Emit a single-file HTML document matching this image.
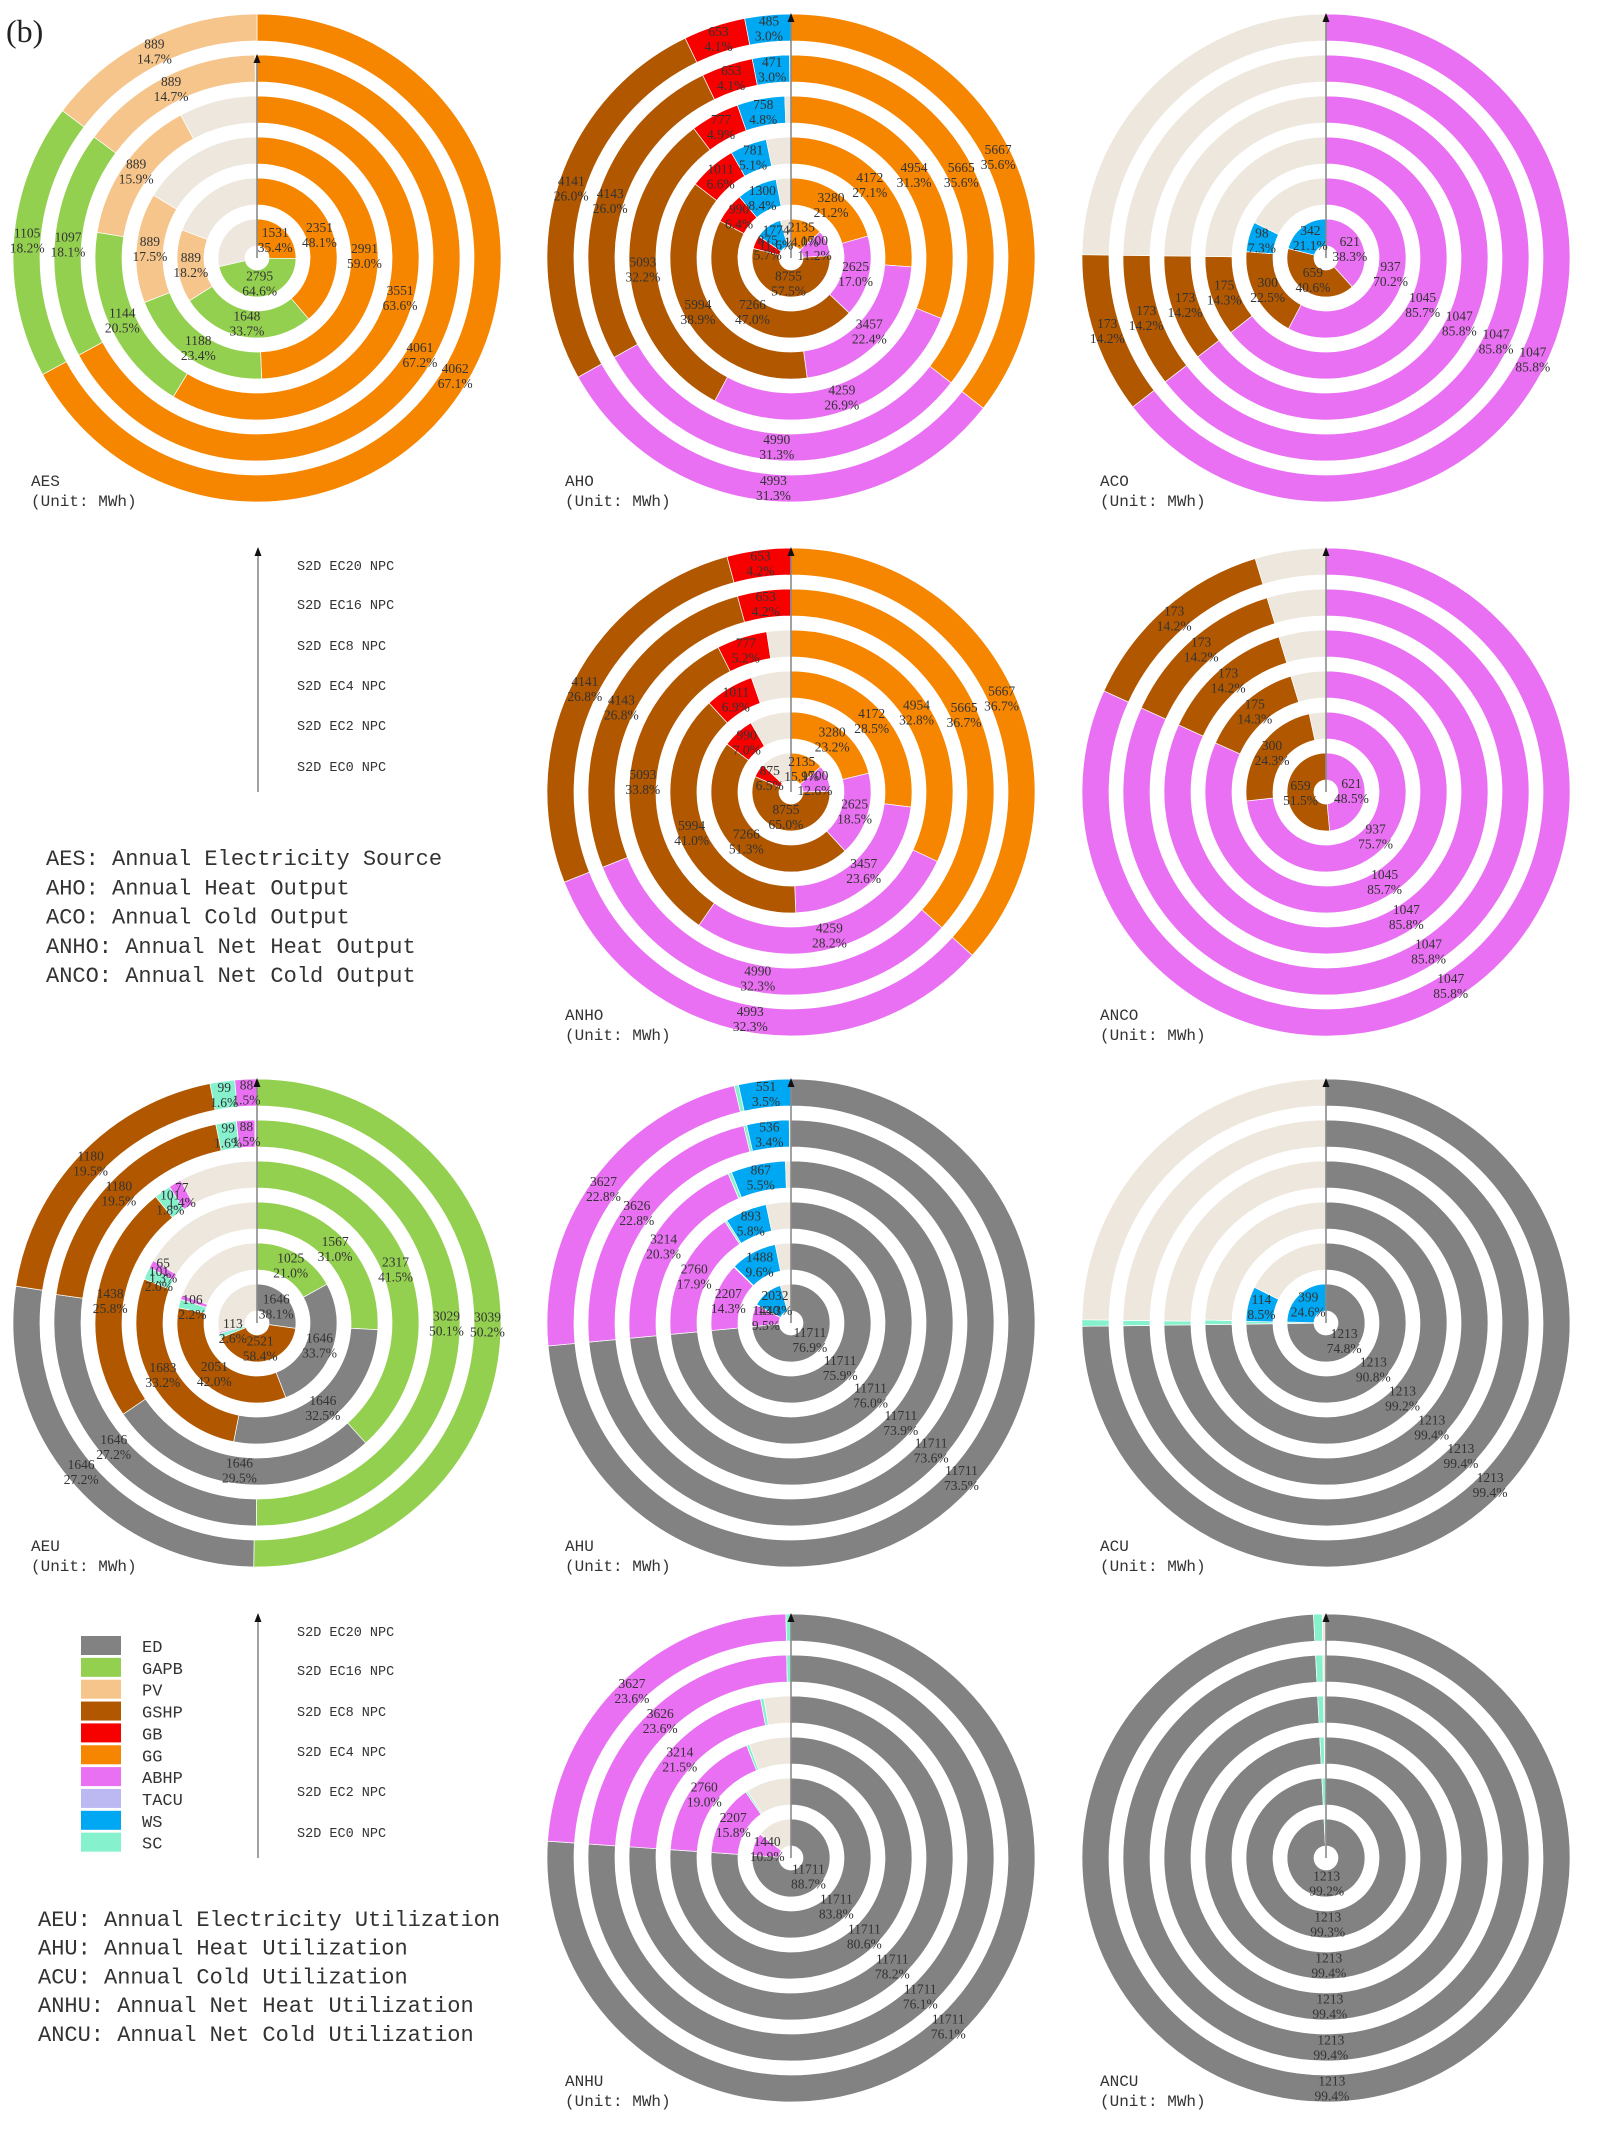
<!DOCTYPE html>
<html><head><meta charset="utf-8">
<style>
html,body{margin:0;padding:0;background:#fff;}
svg{display:block;}
</style></head>
<body>
<svg id="fig" xmlns="http://www.w3.org/2000/svg" width="1598" height="2131" viewBox="0 0 1598 2131">
<rect x="0" y="0" width="1598" height="2131" fill="#fff"/>
<text x="6" y="42" font-family="Liberation Serif, serif" font-size="32" fill="#222">(b)</text>
<g id="charts"></g>
<g id="legends"></g>
</svg>
<script>
// Scenario ring order: inner (EC0) -> outer (EC20)
const scenarios = ['S2D EC0 NPC','S2D EC2 NPC','S2D EC4 NPC','S2D EC8 NPC','S2D EC16 NPC','S2D EC20 NPC'];
const legendNames = ['ED','GAPB','PV','GSHP','GB','GG','ABHP','TACU','WS','SC'];

// AES
const AES_GG   = [1531,2351,2991,3551,4061,4062];
const AES_GAPB = [2795,1648,1188,1144,1097,1105];
const AES_PV   = [0,889,889,889,889,889];
// AHO
const AHO_GG   = [2135,3280,4172,4954,5665,5667];
const AHO_ABHP = [1700,2625,3457,4259,4990,4993];
const AHO_GSHP = [8755,7266,5994,5093,4143,4141];
const AHO_GB   = [875,990,1011,777,653,653];
const AHO_WS   = [1774,1300,781,758,471,485];
// ACO
const ACO_ABHP = [621,937,1045,1047,1047,1047];
const ACO_GSHP = [659,300,175,173,173,173];
const ACO_WS   = [342,98,0,0,0,0];
// ANHO
const ANHO_GG   = [2135,3280,4172,4954,5665,5667];
const ANHO_ABHP = [1700,2625,3457,4259,4990,4993];
const ANHO_GSHP = [8755,7266,5994,5093,4143,4141];
const ANHO_GB   = [875,990,1011,777,653,653];
// ANCO
const ANCO_ABHP = [621,937,1045,1047,1047,1047];
const ANCO_GSHP = [659,300,175,173,173,173];
// AEU
const AEU_GAPB = [0,1025,1567,2317,3029,3039];
const AEU_ED   = [1646,1646,1646,1646,1646,1646];
const AEU_GSHP = [2521,2051,1683,1438,1180,1180];
const AEU_SC   = [113,106,101,101,99,99];
const AEU_ABHP = [40,56,65,77,88,88];
// AHU
const AHU_ED   = [11711,11711,11711,11711,11711,11711];
const AHU_ABHP = [1440,2207,2760,3214,3626,3627];
const AHU_SC   = [46,24,45,55,39,45];
const AHU_WS   = [2032,1488,893,867,536,551];
// ACU
const ACU_ED = [1213,1213,1213,1213,1213,1213];
const ACU_SC = [10,9,10,7,7,7];
const ACU_WS = [399,114,0,0,0,0];
// ANHU
const ANHU_ED   = [11711,11711,11711,11711,11711,11711];
const ANHU_ABHP = [1440,2207,2760,3214,3626,3627];
const ANHU_SC   = [52,57,59,51,52,51];
// ANCU
const ANCU_ED = [1213,1213,1213,1213,1213,1213];
const ANCU_SC = [10,9,7,7,7,7];

const COLORS = {ED:'#828282',GAPB:'#94d050',PV:'#f6c58b',GSHP:'#b05700',GB:'#f70000',GG:'#f68500',ABHP:'#e970f2',TACU:'#bcb8f2',WS:'#00a7f2',SC:'#86f1cd'};
const BEIGE = '#ede7dd';
const NS = 'http://www.w3.org/2000/svg';
const R_IN = 12, R_W = 27, R_PITCH = 41;

function mk(tag, attrs, parent){
  const e = document.createElementNS(NS, tag);
  for (const k in attrs) e.setAttribute(k, attrs[k]);
  parent.appendChild(e);
  return e;
}
function pt(cx, cy, r, a){ return [cx + r*Math.sin(a), cy - r*Math.cos(a)]; }
function sector(cx, cy, r0, r1, a0, a1){
  if (a1 - a0 >= 2*Math.PI - 1e-6){
    const m = a0 + Math.PI;
    return sector(cx,cy,r0,r1,a0,m) + ' ' + sector(cx,cy,r0,r1,m,a1);
  }
  const large = (a1 - a0) > Math.PI ? 1 : 0;
  const p1 = pt(cx,cy,r1,a0), p2 = pt(cx,cy,r1,a1), p3 = pt(cx,cy,r0,a1), p4 = pt(cx,cy,r0,a0);
  return `M${p1[0]},${p1[1]} A${r1},${r1} 0 ${large} 1 ${p2[0]},${p2[1]} L${p3[0]},${p3[1]} A${r0},${r0} 0 ${large} 0 ${p4[0]},${p4[1]} Z`;
}

function drawChart(name, cx, cy, seriesNames, seriesVals, arrowR){
  const root = document.getElementById('charts');
  const g = mk('g', {}, root);
  
  
  const totals = scenarios.map((s, i) => seriesVals.reduce((acc, arr) => acc + arr[i], 0));
  const maxT = Math.max(...totals);
  const labels = [];
  scenarios.forEach((scn, i) => {
    const r0 = R_IN + i*R_PITCH, r1 = r0 + R_W, rm = (r0 + r1)/2;
    let a = 0;
    seriesVals.forEach((arr, k) => {
      const v = arr[i];
      if (v <= 0) return;
      const da = v / maxT * 2*Math.PI;
      const p = mk('path', {d: sector(cx,cy,r0,r1,a,a+da), fill: COLORS[seriesNames[k]], stroke:'#fff', 'stroke-width':'0.7'}, g);
      
      
      const pct = v / totals[i] * 100;
      if (pct >= 1.2) {
        const c = pt(cx, cy, rm, a + da/2);
        labels.push([c, v, pct.toFixed(1) + '%', seriesNames[k], i]);
      }
      a += da;
    });
    if (a < 2*Math.PI - 1e-4){
      const b = mk('path', {d: sector(cx,cy,r0,r1,a,2*Math.PI), fill: BEIGE, stroke:'#fff', 'stroke-width':'0.7'}, g);
      
      
    }
  });
  // axis arrow
  const ln = mk('line', {x1:cx, y1:cy, x2:cx, y2:cy-arrowR+6, stroke:'#8a8a8a', 'stroke-width':'1.6'}, g);
  
  
  const ah = mk('path', {d:`M${cx-3.5},${cy-arrowR+9} L${cx},${cy-arrowR} L${cx+3.5},${cy-arrowR+9} Z`, fill:'#111'}, g);
  
  
  labels.forEach(L => {
    const t = mk('text', {x:L[0][0], y:L[0][1]-3, 'text-anchor':'middle', 'font-family':'Liberation Serif, serif', 'font-size':'13.5', fill:'#333'}, g);
    
    
    const s1 = mk('tspan', {x:L[0][0]}, t); s1.textContent = L[1];
    const s2 = mk('tspan', {x:L[0][0], dy:'15'}, t); s2.textContent = L[2];
  });
  const t1 = mk('text', {x:cx-226, y:cy+228, 'font-family':'Liberation Mono, monospace', 'font-size':'16', fill:'#333'}, g);
  
  
  t1.textContent = name;
  const t2 = mk('text', {x:cx-226, y:cy+248, 'font-family':'Liberation Mono, monospace', 'font-size':'16', fill:'#333'}, g);
  
  
  t2.textContent = '(Unit: MWh)';
}

const CX = [257, 791, 1326], CY = [258, 792, 1323, 1858];
drawChart('AES', CX[0], CY[0], ['GG','GAPB','PV'], [AES_GG, AES_GAPB, AES_PV], 204);
drawChart('AHO', CX[1], CY[0], ['GG','ABHP','GSHP','GB','WS'], [AHO_GG, AHO_ABHP, AHO_GSHP, AHO_GB, AHO_WS], 245);
drawChart('ACO', CX[2], CY[0], ['ABHP','GSHP','WS'], [ACO_ABHP, ACO_GSHP, ACO_WS], 245);
drawChart('ANHO', CX[1], CY[1], ['GG','ABHP','GSHP','GB'], [ANHO_GG, ANHO_ABHP, ANHO_GSHP, ANHO_GB], 245);
drawChart('ANCO', CX[2], CY[1], ['ABHP','GSHP'], [ANCO_ABHP, ANCO_GSHP], 245);
drawChart('AEU', CX[0], CY[2], ['GAPB','ED','GSHP','SC','ABHP'], [AEU_GAPB, AEU_ED, AEU_GSHP, AEU_SC, AEU_ABHP], 245);
drawChart('AHU', CX[1], CY[2], ['ED','ABHP','SC','WS'], [AHU_ED, AHU_ABHP, AHU_SC, AHU_WS], 245);
drawChart('ACU', CX[2], CY[2], ['ED','SC','WS'], [ACU_ED, ACU_SC, ACU_WS], 245);
drawChart('ANHU', CX[1], CY[3], ['ED','ABHP','SC'], [ANHU_ED, ANHU_ABHP, ANHU_SC], 245);
drawChart('ANCU', CX[2], CY[3], ['ED','SC'], [ANCU_ED, ANCU_SC], 245);

// Scenario legends (arrow + labels)
const scnOffsets = [-26,-67,-107,-147,-188,-227];
function scenarioLegend(cy, id){
  const lg = document.getElementById('legends');
  const g = mk('g', {}, lg);
  
  
  const ln = mk('line', {x1:258, y1:cy, x2:258, y2:cy-239, stroke:'#8a8a8a', 'stroke-width':'1.6'}, g);
  
  
  const ah = mk('path', {d:`M254.5,${cy-236} L258,${cy-245} L261.5,${cy-236} Z`, fill:'#111'}, g);
  
  
  scenarios.forEach((s, i) => {
    const t = mk('text', {x:297, y:cy+scnOffsets[i]+5, 'font-family':'Liberation Mono, monospace', 'font-size':'13.5', fill:'#333'}, g);
    
    
    t.textContent = s;
  });
}
scenarioLegend(CY[1], 'top');
scenarioLegend(CY[3], 'bottom');

// Abbreviation definitions
const defsTop = ['AES: Annual Electricity Source','AHO: Annual Heat Output','ACO: Annual Cold Output','ANHO: Annual Net Heat Output','ANCO: Annual Net Cold Output'];
const defsBottom = ['AEU: Annual Electricity Utilization','AHU: Annual Heat Utilization','ACU: Annual Cold Utilization','ANHU: Annual Net Heat Utilization','ANCU: Annual Net Cold Utilization'];
function defs(list, x, y0, pitch, id){
  const lg = document.getElementById('legends');
  const g = mk('g', {}, lg);
  
  
  list.forEach((s, i) => {
    const t = mk('text', {x:x, y:y0+i*pitch, 'font-family':'Liberation Mono, monospace', 'font-size':'22', fill:'#333'}, g);
    
    
    t.textContent = s;
  });
}
defs(defsTop, 46, 865, 29.3, 'top');
defs(defsBottom, 38, 1926, 28.7, 'bottom');

// Color legend
(function(){
  const lg = document.getElementById('legends');
  const g = mk('g', {}, lg);
  
  
  legendNames.forEach((n, i) => {
    const y = 1636 + i*21.85;
    const r = mk('rect', {x:81, y:y, width:40, height:19, fill:COLORS[n]}, g);
    
    
    const t = mk('text', {x:142, y:y+16, 'font-family':'Liberation Mono, monospace', 'font-size':'17', fill:'#333'}, g);
    
    
    t.textContent = n;
  });
})();
</script>
</body></html>
